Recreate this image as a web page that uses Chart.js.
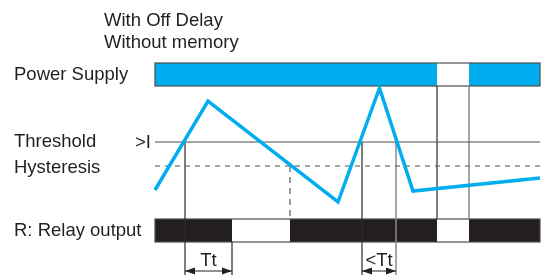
<!DOCTYPE html>
<html lang="en">
<head>
<meta charset="UTF-8">
<title>Off delay relay timing</title>
<script src="https://cdn.jsdelivr.net/npm/chart.js"></script>
<style>
  html, body { margin: 0; padding: 0; background: #fff; }
  #wrap { width: 542px; height: 275px; }
</style>
</head>
<body>
<div id="wrap"><canvas id="timing" width="542" height="275"></canvas></div>
<script>
// x = time, y = level (drawing units, y grows downward)
const currentTime  = [155, 208, 338, 379.5, 413, 540];
const currentLevel = [190, 101, 202, 88, 191, 178];
const thresholdLevel = 142;
const hysteresisLevel = 166;
const traceStart = 155;
const traceEnd = 540;

// on-intervals of the two state rows
const powerOn = [[155, 437], [469, 540]];
const relayOn = [[155, 232], [290, 437], [469, 540]];
const powerRow = [63, 86];
const relayRow = [219, 242];

// vertical markers: [time, from, to]
const markersDark   = [[185, 142, 275], [232, 242, 275], [362, 142, 275], [437, 86, 219]];
const markersGrey   = [[396, 142, 275], [469, 86, 219]];
const markersDashed = [[290, 166, 219]];

// delay spans under the relay row
const spanLabels = ['Tt', '<Tt'];
const spanFrom   = [185, 362];
const spanTo     = [232, 396];

const titleLines = ['With Off Delay', 'Without memory'];
const rowLabels  = ['Power Supply', 'Threshold', 'Hysteresis', 'R: Relay output'];

const BLUE = '#00aeef';
const INK = '#231f20';
const FONT = '18.5px "Liberation Sans", Arial, sans-serif';

function segments(list) {
  const out = [];
  list.forEach(m => {
    out.push({ x: m[0], y: m[1] }, { x: m[0], y: m[2] }, { x: m[0], y: null });
  });
  return out;
}

const rowsPlugin = {
  id: 'rows',
  beforeDatasetsDraw(chart) {
    const { ctx, scales: { x, y } } = chart;
    const drawRow = (row, on, fill) => {
      const top = y.getPixelForValue(row[0]);
      const bot = y.getPixelForValue(row[1]);
      ctx.fillStyle = fill;
      on.forEach(s => {
        const a = x.getPixelForValue(s[0]);
        const b = x.getPixelForValue(s[1]);
        ctx.fillRect(a, top, b - a, bot - top);
      });
      ctx.strokeStyle = '#4d4d4d';
      ctx.lineWidth = 1.2;
      const l = x.getPixelForValue(traceStart);
      const r = x.getPixelForValue(traceEnd);
      ctx.strokeRect(l, top, r - l, bot - top);
    };
    ctx.save();
    drawRow(powerRow, powerOn, BLUE);
    drawRow(relayRow, relayOn, INK);
    ctx.restore();
  },
  afterDatasetsDraw(chart) {
    const { ctx, scales: { x, y } } = chart;
    ctx.save();
    ctx.fillStyle = INK;
    ctx.font = FONT;
    ctx.textBaseline = 'alphabetic';
    ctx.textAlign = 'left';
    ctx.fillText(titleLines[0], 104, 26);
    ctx.fillText(titleLines[1], 104, 48);
    ctx.fillText(rowLabels[0], 14, 80);
    ctx.fillText(rowLabels[1], 14, 147);
    ctx.fillText(rowLabels[2], 14, 173);
    ctx.fillText(rowLabels[3], 14, 236);
    ctx.fillText('>I', 135, 148);

    // delay spans with arrows
    ctx.strokeStyle = INK;
    ctx.lineWidth = 1;
    const ay = 271;
    spanLabels.forEach((lab, i) => {
      const a = x.getPixelForValue(spanFrom[i]);
      const b = x.getPixelForValue(spanTo[i]);
      ctx.beginPath();
      ctx.moveTo(a, ay);
      ctx.lineTo(b, ay);
      ctx.stroke();
      ctx.beginPath();
      ctx.moveTo(a, ay); ctx.lineTo(a + 10, ay - 3.5); ctx.lineTo(a + 10, ay + 3.5); ctx.closePath();
      ctx.moveTo(b, ay); ctx.lineTo(b - 10, ay - 3.5); ctx.lineTo(b - 10, ay + 3.5); ctx.closePath();
      ctx.fill();
      ctx.textAlign = 'center';
      ctx.fillText(lab, (a + b) / 2, 266);
    });
    ctx.restore();
  }
};

new Chart(document.getElementById('timing'), {
  type: 'scatter',
  data: {
    datasets: [
      {
        label: 'Current',
        data: currentTime.map((t, i) => ({ x: t, y: currentLevel[i] })),
        showLine: true,
        borderColor: BLUE,
        borderWidth: 3.5,
        pointRadius: 0
      },
      {
        label: 'Threshold',
        data: [{ x: traceStart, y: thresholdLevel }, { x: traceEnd, y: thresholdLevel }],
        showLine: true,
        borderColor: '#4d4d4d',
        borderWidth: 1.2,
        pointRadius: 0
      },
      {
        label: 'Hysteresis',
        data: [{ x: traceStart, y: hysteresisLevel }, { x: traceEnd, y: hysteresisLevel }],
        showLine: true,
        borderColor: '#6d6d6d',
        borderWidth: 1.2,
        borderDash: [5, 5],
        pointRadius: 0
      },
      {
        label: 'Markers',
        data: segments(markersDark),
        showLine: true,
        borderColor: '#2b2b2b',
        borderWidth: 1.2,
        pointRadius: 0
      },
      {
        label: 'Markers grey',
        data: segments(markersGrey),
        showLine: true,
        borderColor: '#8a8a8a',
        borderWidth: 1.5,
        pointRadius: 0
      },
      {
        label: 'Markers dashed',
        data: segments(markersDashed),
        showLine: true,
        borderColor: '#7a7a7a',
        borderWidth: 1.5,
        borderDash: [6, 5],
        pointRadius: 0
      }
    ]
  },
  options: {
    responsive: false,
    animation: false,
    layout: { padding: 0 },
    plugins: { legend: { display: false }, tooltip: { enabled: false } },
    scales: {
      x: { type: 'linear', min: 0, max: 542, display: false },
      y: { type: 'linear', min: 0, max: 275, reverse: true, display: false }
    }
  },
  plugins: [rowsPlugin]
});
</script>
</body>
</html>
